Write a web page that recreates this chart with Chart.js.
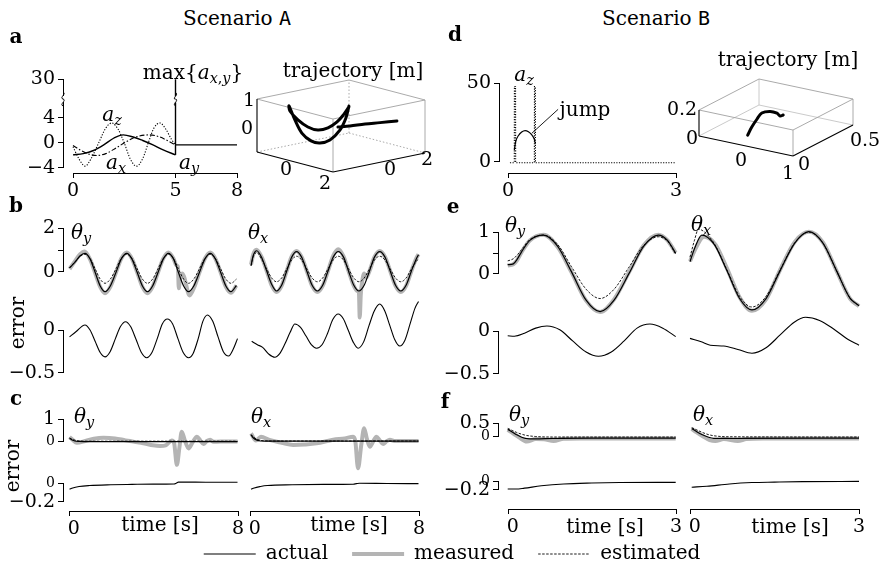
<!DOCTYPE html>
<html>
<head>
<meta charset="utf-8">
<title>Scenario A / B</title>
<script src="https://cdn.jsdelivr.net/npm/chart.js@4.4.1/dist/chart.umd.min.js"></script>
<style>
  body { margin: 0; background: #fff; }
  #fig { position: relative; width: 880px; height: 569px; overflow: hidden; background: #fff; }
  #fig canvas { position: absolute; }
  .t { position: absolute; transform: translate(-50%, -50%); white-space: nowrap;
       font: 20px 'DejaVu Serif', serif; line-height: 1; color: #000; }
  .t i { font-style: italic; }
  .t sub { font-size: 0.72em; vertical-align: -0.3em; line-height: 0; }
  .t tt { font-family: 'DejaVu Sans Mono', monospace; }
  .bold { font-weight: bold; }
  .tick { font-size: 19px; }
  .rot { transform: translate(-50%, -50%) rotate(-90deg); }
</style>
</head>
<body>
<div id="fig"></div>
<script>
const fig = document.getElementById('fig');

Chart.defaults.font.family = "'DejaVu Serif', serif";
Chart.defaults.font.size = 19;
Chart.defaults.color = '#000';
Chart.defaults.animation = false;
Chart.defaults.responsive = false;
Chart.defaults.events = [];
Chart.defaults.plugins.legend.display = false;
Chart.defaults.plugins.tooltip.enabled = false;

// ---- panel a: accelerations, scenario A ----
const accTimeZ = [0, 0.3, 0.59, 0.9, 1.25, 1.6, 1.89, 2.2, 2.5, 2.8, 3.1, 3.4, 3.67, 3.95, 4.24, 4.55, 4.8, 5];
const accZ = [-0.6, -2.6, -3.7, -2.4, 0, 2.4, 3.2, 2.2, 0, -2.6, -3.7, -2.5, 0, 2.4, 3.2, 2.1, 0.6, -0.3];
const accTimeX = [0, 0.4, 0.8, 1.15, 1.6, 2.1, 2.6, 3.1, 3.7, 4.2, 4.6, 5];
const accX = [-0.4, -1.2, -1.8, -2.0, -1.7, -0.8, 0.2, 1.0, 1.3, 1.0, 0.4, -0.3];
const accTimeY = [0, 0.5, 1.0, 1.5, 2.0, 2.45, 2.9, 3.4, 3.9, 4.4, 5];
const accY = [-1.9, -1.7, -1.2, -0.3, 0.8, 1.3, 1.0, 0.4, -0.3, -1.1, -1.9];
const accPeakT = [5, 5];
const accPeakLow = [-1.9, 6.5];
const accPeakHigh = [27.3, 30];
const accRestT = [5, 8];
const accRest = [-0.3, -0.3];

// ---- panel d: jump, scenario B ----
const jumpAzT = [0.04, 0.118, 0.12, 0.14, 0.142, 0.476, 0.478, 0.494, 0.496, 3];
const jumpAz = [0, 0, 48, 48, 0, 0, 48, 48, 0, 0];
const jumpT = [0.118, 0.142, 0.19, 0.25, 0.31, 0.37, 0.43, 0.476, 0.494];
const jumpZ = [8, 13.2, 17, 19.3, 20.2, 19.5, 17.5, 14.7, 11.8];
const jumpTagT = [0.43, 0.9];
const jumpTag = [18.5, 33.6];

// ---- trajectories [m] ----
const trajAX = [0.66, 0.57, 0.38, 0.07, -0.24, -0.52, -0.81, -1.03, -1.21, -1.18, -0.93, -0.62, -0.31, 0.01, 0.29, 0.51, 0.66];
const trajAY = [-0.5, -0.58, -0.73, -0.98, -1.23, -1.45, -1.68, -1.85, -2.0, -1.98, -1.78, -1.53, -1.28, -1.03, -0.8, -0.63, -0.5];
const trajAZ = [0.83, 0.38, -0.09, -0.48, -0.61, -0.55, -0.27, 0.21, 0.73, 0.54, 0.22, -0.03, -0.13, -0.03, 0.21, 0.52, 0.8];
const tailAX = [0.29, 0.55, 0.86, 1.17, 1.52];
const tailAY = [-0.75, -0.34, 0.19, 0.71, 1.3];
const tailAZ = [0.01, 0.04, 0.09, 0.12, 0.16];
const trajBX = [-0.05, -0.16, -0.24, -0.33, -0.28, -0.2, -0.17, -0.13];
const trajBY = [0.03, 0.115, 0.198, 0.28, 0.335, 0.363, 0.379, 0.39];
const trajBZ = [0.037, 0.054, 0.074, 0.078, 0.07, 0.05, 0.024, 0.03];

// ---- panel b: scenario A, theta_y ----
const bT = [0.05, 0.3, 0.55, 0.78, 1.02, 1.26, 1.5, 1.73, 1.98, 2.25, 2.5, 2.76, 3.0, 3.25, 3.5, 3.74, 3.98, 4.24, 4.49, 4.73, 4.97, 5.2, 5.45, 5.68, 5.93, 6.2, 6.46, 6.71, 6.95, 7.2, 7.45, 7.69, 7.95];
const bActY = [0.2, 0.45, 0.75, 0.86, 0.61, 0, -0.62, -0.88, -0.62, 0, 0.61, 0.86, 0.61, 0, -0.62, -0.88, -0.62, 0, 0.61, 0.86, 0.61, 0, -0.62, -0.88, -0.62, 0, 0.61, 0.86, 0.61, 0, -0.62, -0.88, -0.6];
const bEstY = [0.2, 0.47, 0.72, 0.82, 0.63, 0.16, -0.31, -0.5, -0.31, 0.16, 0.63, 0.82, 0.63, 0.16, -0.31, -0.5, -0.31, 0.16, 0.63, 0.82, 0.63, 0.16, -0.31, -0.5, -0.31, 0.16, 0.63, 0.82, 0.63, 0.16, -0.31, -0.5, -0.31];
const bMeasTY = [0.05, 0.3, 0.55, 0.76, 1.0, 1.25, 1.5, 1.73, 1.98, 2.25, 2.5, 2.76, 3.0, 3.25, 3.5, 3.74, 3.98, 4.24, 4.49, 4.73, 4.97, 5.12, 5.18, 5.22, 5.28, 5.38, 5.47, 5.73, 5.95, 6.2, 6.46, 6.71, 6.95, 7.2, 7.45, 7.69, 7.95];
const bMeasY = [0.15, 0.5, 0.82, 0.95, 0.63, 0, -0.66, -0.95, -0.66, 0, 0.63, 0.9, 0.62, 0, -0.66, -0.95, -0.66, 0, 0.63, 0.9, 0.62, 0.3, 0.25, -0.73, -0.3, -0.05, -0.2, -1.05, -0.68, 0, 0.63, 0.9, 0.62, 0, -0.66, -0.93, -0.6];
const bErrTY = [0.05, 0.35, 0.78, 1.02, 1.26, 1.5, 1.73, 1.97, 2.22, 2.46, 2.7, 2.94, 3.2, 3.45, 3.7, 3.95, 4.2, 4.44, 4.68, 4.93, 5.18, 5.43, 5.68, 5.9, 6.14, 6.36, 6.58, 6.83, 7.08, 7.33, 7.58, 7.8, 8.0];
const bErrY = [-0.08, -0.02, 0.058, 0.0, -0.13, -0.26, -0.31, -0.25, -0.1, 0.04, 0.096, 0.04, -0.11, -0.26, -0.32, -0.26, -0.1, 0.07, 0.127, 0.07, -0.1, -0.26, -0.32, -0.27, -0.1, 0.1, 0.173, 0.1, -0.08, -0.25, -0.3, -0.22, -0.1];

// ---- panel b: scenario A, theta_x ----
const bTX = [0.05, 0.15, 0.32, 0.55, 0.79, 1.03, 1.26, 1.5, 1.74, 1.98, 2.21, 2.45, 2.7, 2.95, 3.2, 3.45, 3.7, 3.95, 4.19, 4.44, 4.68, 4.93, 5.17, 5.42, 5.67, 5.91, 6.16, 6.41, 6.66, 6.91, 7.16, 7.41, 7.66, 7.9, 8.0];
const bActX = [0.3, 0.75, 0.98, 0.68, 0.07, -0.55, -0.85, -0.59, 0.05, 0.69, 0.94, 0.69, 0.05, -0.59, -0.85, -0.59, 0.05, 0.69, 0.94, 0.69, 0.05, -0.59, -0.85, -0.59, 0.05, 0.69, 0.94, 0.69, 0.05, -0.59, -0.85, -0.59, 0.05, 0.62, 0.8];
const bEstX = [0.3, 0.7, 0.9, 0.6, 0.15, -0.26, -0.43, -0.26, 0.15, 0.56, 0.73, 0.56, 0.15, -0.26, -0.43, -0.26, 0.15, 0.56, 0.73, 0.56, 0.15, -0.26, -0.43, -0.26, 0.15, 0.56, 0.73, 0.56, 0.15, -0.26, -0.43, -0.26, 0.15, 0.5, 0.62];
const bMeasTX = [0.05, 0.15, 0.3, 0.55, 0.79, 1.03, 1.26, 1.5, 1.74, 1.98, 2.21, 2.45, 2.7, 2.95, 3.2, 3.45, 3.7, 3.95, 4.19, 4.44, 4.68, 4.93, 5.1, 5.17, 5.21, 5.26, 5.33, 5.42, 5.52, 5.67, 5.91, 6.16, 6.41, 6.66, 6.91, 7.16, 7.41, 7.66, 7.9, 8.0];
const bMeasX = [0.35, 0.8, 1.02, 0.7, 0.07, -0.6, -0.9, -0.62, 0.05, 0.72, 0.97, 0.7, 0.05, -0.62, -0.9, -0.62, 0.05, 0.75, 1.05, 0.72, 0.05, -0.62, -0.85, -0.9, -2.05, -1.0, -0.4, -0.05, -0.25, 0.05, 0.7, 0.97, 0.7, 0.05, -0.62, -0.9, -0.62, 0.05, 0.65, 0.82];
const bErrTX = [0.08, 0.35, 0.6, 0.9, 1.18, 1.42, 1.66, 1.9, 2.13, 2.4, 2.66, 2.91, 3.16, 3.42, 3.68, 3.93, 4.19, 4.43, 4.66, 4.9, 5.13, 5.39, 5.65, 5.9, 6.16, 6.4, 6.64, 6.87, 7.11, 7.35, 7.6, 7.83, 8.0];
const bErrX = [-0.13, -0.17, -0.2, -0.28, -0.315, -0.27, -0.16, -0.03, 0.069, 0.03, -0.07, -0.17, -0.21, -0.17, -0.04, 0.12, 0.185, 0.13, 0.0, -0.14, -0.21, -0.14, 0.05, 0.22, 0.3, 0.22, 0.05, -0.11, -0.185, -0.12, 0.07, 0.25, 0.33];

// ---- panel c: scenario A, second estimator ----
const cT = [0.05, 0.15, 0.3, 0.5, 1, 8];
const cActY = [0.12, 0.06, 0.0, -0.02, -0.03, -0.03];
const cEstY = [0.14, 0.09, 0.04, 0.0, -0.01, -0.01];
const cActX = [0.28, 0.15, 0.05, 0.0, -0.01, -0.01];
const cEstX = [0.3, 0.2, 0.09, 0.03, 0.0, 0.0];
const cMeasTY = [0.05, 0.2, 0.39, 0.8, 1.2, 1.65, 2.2, 2.7, 3.07, 3.6, 4.0, 4.34, 4.6, 4.89, 5.0, 5.13, 5.25, 5.36, 5.5, 5.68, 5.88, 6.08, 6.24, 6.39, 6.55, 6.71, 6.86, 7.02, 7.4, 8.0];
const cMeasY = [0.18, 0.05, -0.08, 0.0, 0.1, 0.15, 0.12, 0.03, -0.03, -0.12, -0.2, -0.23, -0.2, 0.02, -0.1, -1.1, -0.3, 0.43, 0.05, -0.34, -0.05, 0.2, 0.02, -0.14, 0.0, 0.06, -0.03, -0.03, -0.02, -0.02];
const cMeasTX = [0.05, 0.28, 0.52, 0.92, 1.5, 2.05, 2.6, 3.16, 3.95, 4.5, 4.9, 5.0, 5.13, 5.28, 5.42, 5.55, 5.69, 5.85, 6.0, 6.16, 6.32, 6.48, 6.64, 6.85, 7.1, 8.0];
const cMeasX = [0.35, 0.02, 0.2, 0.05, -0.08, -0.18, -0.16, -0.11, 0.06, 0.12, 0.2, 0.0, -1.26, -0.2, 0.59, 0.1, -0.26, -0.02, 0.2, 0.03, -0.14, -0.02, 0.06, 0.0, 0.0, 0.0];
const cErrTY = [0.05, 0.2, 0.5, 1, 2, 3, 4, 5.0, 5.1, 5.2, 6, 7, 8];
const cErrY = [-0.07, -0.055, -0.04, -0.03, -0.022, -0.018, -0.015, -0.013, -0.005, 0.006, 0.006, 0.005, 0.005];
const cErrTX = [0.05, 0.2, 0.5, 0.83, 2, 3.5, 4.9, 5.05, 5.2, 6.5, 8];
const cErrX = [-0.07, -0.055, -0.04, -0.03, -0.022, -0.018, -0.016, -0.01, -0.005, -0.008, -0.01];

// ---- panel e: scenario B ----
const eT = [0, 0.1, 0.17, 0.25, 0.4, 0.64, 0.89, 1.14, 1.4, 1.65, 1.9, 2.17, 2.43, 2.69, 2.85, 3.0];
const eActY = [0.22, 0.24, 0.35, 0.53, 0.8, 0.92, 0.66, 0.05, -0.62, -0.89, -0.62, 0.02, 0.66, 0.92, 0.8, 0.49];
const eEstY = [0.31, 0.36, 0.45, 0.58, 0.82, 0.92, 0.7, 0.17, -0.36, -0.58, -0.36, 0.17, 0.68, 0.88, 0.78, 0.47];
const eMeasY = [0.2, 0.23, 0.33, 0.52, 0.8, 0.93, 0.64, 0.04, -0.63, -0.9, -0.6, 0.05, 0.68, 0.93, 0.8, 0.5];
const eErrTY = [0, 0.12, 0.3, 0.5, 0.7, 0.93, 1.16, 1.4, 1.62, 1.85, 2.08, 2.31, 2.54, 2.77, 3.0];
const eErrY = [-0.06, -0.065, -0.03, 0.03, 0.055, 0.01, -0.12, -0.25, -0.3, -0.25, -0.12, 0.03, 0.078, 0.03, -0.07];
const eTX = [0, 0.08, 0.21, 0.43, 0.655, 0.88, 1.1, 1.35, 1.6, 1.86, 2.11, 2.36, 2.6, 2.84, 3.0];
const eActX = [0.29, 0.6, 0.92, 0.7, 0.08, -0.58, -0.85, -0.58, 0.08, 0.73, 1.0, 0.73, 0.08, -0.57, -0.75];
const eEstTX = [0, 0.08, 0.15, 0.25, 0.43, 0.655, 0.88, 1.1, 1.35, 1.6, 1.86, 2.11, 2.36, 2.6, 2.84, 3.0];
const eEstX = [0.4, 0.8, 1.06, 1.0, 0.72, 0.1, -0.53, -0.78, -0.53, 0.1, 0.74, 0.99, 0.73, 0.08, -0.57, -0.75];
const eMeasTX = [0, 0.08, 0.25, 0.45, 0.66, 0.88, 1.1, 1.35, 1.6, 1.86, 2.11, 2.36, 2.6, 2.84, 3.0];
const eMeasX = [0.3, 0.55, 0.88, 0.7, 0.12, -0.55, -0.87, -0.6, 0.1, 0.76, 1.0, 0.75, 0.08, -0.58, -0.76];
const eErrTX = [0, 0.2, 0.36, 0.6, 0.85, 1.1, 1.35, 1.6, 1.85, 2.05, 2.3, 2.55, 2.8, 3.0];
const eErrX = [-0.09, -0.13, -0.17, -0.18, -0.22, -0.265, -0.2, -0.05, 0.1, 0.157, 0.12, 0.02, -0.1, -0.17];

// ---- panel f: scenario B, second estimator ----
const fT = [0, 0.08, 0.16, 0.25, 0.34, 0.5, 0.8, 1.5, 3];
const fActY = [0.26, 0.16, 0.05, -0.05, -0.1, -0.11, -0.09, -0.08, -0.08];
const fEstY = [0.3, 0.22, 0.14, 0.07, 0.02, -0.02, -0.04, -0.04, -0.04];
const fMeasTY = [0, 0.1, 0.2, 0.34, 0.5, 0.65, 0.82, 1.0, 1.3, 2, 3];
const fMeasY = [0.24, 0.1, -0.05, -0.22, -0.12, -0.13, -0.2, -0.11, -0.1, -0.1, -0.1];
const fErrTY = [0, 0.15, 0.3, 0.6, 1.0, 1.5, 2.0, 3.0];
const fErrY = [-0.18, -0.18, -0.16, -0.11, -0.07, -0.05, -0.04, -0.035];
const fTX = [0.03, 0.12, 0.22, 0.32, 0.42, 0.7, 3];
const fActX = [0.3, 0.17, 0.05, -0.04, -0.09, -0.09, -0.08];
const fEstX = [0.33, 0.24, 0.14, 0.06, 0.01, -0.03, -0.04];
const fMeasTX = [0.03, 0.12, 0.22, 0.35, 0.45, 0.6, 0.85, 1.0, 1.3, 3];
const fMeasX = [0.28, 0.14, 0.0, -0.16, -0.2, -0.12, -0.2, -0.12, -0.1, -0.1];
const fErrTX = [0.03, 0.3, 0.7, 1.1, 1.5, 2, 3];
const fErrX = [-0.14, -0.12, -0.07, -0.04, -0.03, -0.02, -0.015];

const legendNames = ['actual', 'measured', 'estimated'];

// line styles
const ACTUAL = { borderColor: '#000', borderWidth: 1.2, order: 2 };
const MEASURED = { borderColor: '#b4b4b4', borderWidth: 4, order: 3 };
const ESTIMATED = { borderColor: '#000', borderWidth: 0.9, borderDash: [2.5, 1.5], order: 1 };
const ERROR = { borderColor: '#000', borderWidth: 1.1, order: 2 };
const STRAIGHT = { tension: 0, cubicInterpolationMode: 'default' };

// little axis-break marks
const squiggle = {
  id: 'squiggle',
  afterDraw(chart, args, opts) {
    const ctx = chart.ctx;
    (opts.marks || []).forEach((m) => {
      const px = m.edge ? chart.chartArea.left : chart.scales.x.getPixelForValue(m.x);
      const py = m.edge ? chart.chartArea[m.edge] : chart.scales[m.axis].getPixelForValue(m.y);
      ctx.save();
      ctx.strokeStyle = '#000';
      ctx.lineWidth = 1;
      ctx.beginPath();
      ctx.moveTo(px, py - 3.5);
      ctx.bezierCurveTo(px + 4, py - 2, px - 4, py + 2, px, py + 3.5);
      ctx.stroke();
      ctx.restore();
    });
  }
};
Chart.register(squiggle);

function pix(map, v) {
  const [v0, p0, v1, p1] = map;
  return p0 + (v - v0) * (p1 - p0) / (v1 - v0);
}

function range(map, a, b) {
  const [v0, p0, v1, p1] = map;
  const va = v0 + (a - p0) * (v1 - v0) / (p1 - p0);
  const vb = v0 + (b - p0) * (v1 - v0) / (p1 - p0);
  return { min: Math.min(va, vb), max: Math.max(va, vb) };
}

function addCanvas(left, top, w, h) {
  const c = document.createElement('canvas');
  c.width = Math.round(w);
  c.height = Math.round(h);
  c.style.left = left + 'px';
  c.style.top = top + 'px';
  c.style.width = Math.round(w) + 'px';
  c.style.height = Math.round(h) + 'px';
  fig.appendChild(c);
  return c;
}

function series(t, v, yAxisID, style) {
  return Object.assign({
    data: t.map((x, i) => ({ x, y: v[i] })),
    yAxisID,
    pointRadius: 0,
    fill: false,
    cubicInterpolationMode: 'monotone'
  }, style);
}

// data area: box is the chart area in page pixels, maps tie values to pixels
function plot(box, xMap, yMaps, datasets, plugins) {
  const [x0, y0, x1, y1] = box;
  const canvas = addCanvas(x0, y0, x1 - x0, y1 - y0);
  const scales = { x: Object.assign({ type: 'linear', display: false }, range(xMap, x0, x1)) };
  Object.keys(yMaps).forEach((id) => {
    scales[id] = Object.assign({ type: 'linear', display: false }, range(yMaps[id], y0, y1));
  });
  return new Chart(canvas, {
    type: 'line',
    data: { datasets },
    options: { layout: { padding: 0 }, scales, plugins: plugins || {} }
  });
}

function yAxis(x, map, lo, hi, ticks, labels, small, marks) {
  const top = pix(map, hi);
  const bottom = pix(map, lo);
  const W = 62;
  const pad = 14;
  const canvas = addCanvas(x - W, top - pad, W + 3, bottom - top + 2 * pad);
  return new Chart(canvas, {
    type: 'line',
    data: { datasets: [] },
    options: {
      layout: { padding: { left: 0, right: 2, top: pad, bottom: pad } },
      scales: {
        x: { type: 'linear', display: false },
        y: {
          type: 'linear', min: lo, max: hi,
          afterFit: (s) => { s.width = W; },
          afterBuildTicks: (s) => { s.ticks = ticks.map((value) => ({ value })); },
          grid: { drawOnChartArea: false, tickLength: 5, color: '#000', lineWidth: 1 },
          border: { color: '#000', width: 1 },
          ticks: {
            padding: 3, autoSkip: false,
            callback: (v) => labels[v] ?? '',
            font: (c) => ({ size: (small || []).includes(c.tick && c.tick.value) ? 14 : 19 })
          }
        }
      },
      plugins: { squiggle: { marks: marks || [] } }
    }
  });
}

function xAxis(y, map, lo, hi, ticks, labels) {
  const left = pix(map, lo);
  const right = pix(map, hi);
  const H = 32;
  const pad = 14;
  const canvas = addCanvas(left - pad, y - 2, right - left + 2 * pad, H + 2);
  return new Chart(canvas, {
    type: 'line',
    data: { datasets: [] },
    options: {
      layout: { padding: { left: pad, right: pad, top: 1, bottom: 0 } },
      scales: {
        y: { type: 'linear', display: false },
        x: {
          type: 'linear', position: 'bottom', min: lo, max: hi,
          afterFit: (s) => { s.height = H; },
          afterBuildTicks: (s) => { s.ticks = ticks.map((value) => ({ value })); },
          grid: { drawOnChartArea: false, tickLength: 5, color: '#000', lineWidth: 1 },
          border: { color: '#000', width: 1 },
          ticks: { padding: 2, autoSkip: false, maxRotation: 0, callback: (v) => labels[v] ?? '' }
        }
      }
    }
  });
}

// simple parallel projection of a 3D box given its bottom corners on the page
function view(L, F, R, H, rx, ry, rz) {
  return (x, y, z) => {
    const u = (x - rx[0]) / (rx[1] - rx[0]);
    const v = (y - ry[0]) / (ry[1] - ry[0]);
    const w = (z - rz[0]) / (rz[1] - rz[0]);
    return {
      x: L[0] + u * (F[0] - L[0]) + v * (R[0] - F[0]),
      y: L[1] + u * (F[1] - L[1]) + v * (R[1] - F[1]) - w * H
    };
  };
}

function cube(box, P, rx, ry, rz, paths, backDash) {
  const [x0, y0, x1, y1] = box;
  const c = (i, j, k) => P(rx[i], ry[j], rz[k]);
  const edge = (a, b, style) => Object.assign({
    data: [a, b], showLine: true, pointRadius: 0, borderWidth: 0.9, borderColor: '#a0a0a0', order: 1
  }, style);
  const axis = { borderColor: '#000', borderWidth: 1.1 };
  const back = backDash ? { borderDash: [1.5, 2] } : { borderColor: '#c4c4c4' };
  const datasets = [
    edge(c(0, 0, 0), c(1, 0, 0), axis),
    edge(c(1, 0, 0), c(1, 1, 0), axis),
    edge(c(0, 0, 0), c(0, 0, 1), axis),
    edge(c(0, 0, 1), c(1, 0, 1)),
    edge(c(1, 0, 1), c(1, 1, 1)),
    edge(c(1, 1, 1), c(0, 1, 1)),
    edge(c(0, 1, 1), c(0, 0, 1)),
    edge(c(1, 0, 0), c(1, 0, 1)),
    edge(c(1, 1, 0), c(1, 1, 1)),
    edge(c(0, 0, 0), c(0, 1, 0), back),
    edge(c(0, 1, 0), c(1, 1, 0), back),
    edge(c(0, 1, 0), c(0, 1, 1), back)
  ];
  paths.forEach(([xs, ys, zs]) => {
    datasets.push({
      data: xs.map((x, i) => P(x, ys[i], zs[i])),
      showLine: true, pointRadius: 0, borderColor: '#000', borderWidth: 3,
      tension: 0.35, borderJoinStyle: 'round', borderCapStyle: 'round', order: 0
    });
  });
  const canvas = addCanvas(x0, y0, x1 - x0, y1 - y0);
  return new Chart(canvas, {
    type: 'scatter',
    data: { datasets },
    options: {
      layout: { padding: 0 },
      scales: {
        x: { type: 'linear', display: false, min: x0, max: x1 },
        y: { type: 'linear', display: false, reverse: true, min: y0, max: y1 }
      }
    }
  });
}

function label(html, x, y, cls) {
  const d = document.createElement('div');
  d.className = 't ' + (cls || '');
  d.innerHTML = html;
  d.style.left = x + 'px';
  d.style.top = y + 'px';
  fig.appendChild(d);
}

// ---- panel a ----
const aX = [0, 73, 8, 237];
const aLo = [0, 143, 4, 118];
const aHi = [30, 79.3, 26, 104.3];
plot([58, 74, 246, 172], aX, { yLo: aLo, yHi: aHi }, [
  series(accTimeZ, accZ, 'yLo', { borderColor: '#000', borderWidth: 1.1, borderDash: [1.2, 1.6] }),
  series(accTimeX, accX, 'yLo', { borderColor: '#000', borderWidth: 1.1, borderDash: [5, 2, 1.5, 2] }),
  series(accTimeY, accY, 'yLo', { borderColor: '#000', borderWidth: 1.4 }),
  series(accPeakT, accPeakLow, 'yLo', Object.assign({ borderColor: '#000', borderWidth: 1.4 }, STRAIGHT)),
  series(accPeakT, accPeakHigh, 'yHi', Object.assign({ borderColor: '#000', borderWidth: 1.4 }, STRAIGHT)),
  series(accRestT, accRest, 'yLo', Object.assign({ borderColor: '#000', borderWidth: 1.2 }, STRAIGHT))
], { squiggle: { marks: [{ x: 5, axis: 'yLo', y: 6.5 }, { x: 5, axis: 'yHi', y: 27.3 }] } });
yAxis(63, aLo, -4, 6.5, [-4, 0, 4], { '-4': '\u22124', 0: '0', 4: '4' }, [], [{ edge: 'top' }]);
yAxis(63, aHi, 27.3, 30, [30], { 30: '30' }, [], [{ edge: 'bottom' }]);
xAxis(173.3, aX, 0, 8, [0, 5, 8], { 0: '0', 5: '5', 8: '8' });

// ---- panel d ----
const dX = [0, 507.7, 3, 675.7];
const dY = [0, 162.7, 50, 83.3];
plot([496, 66, 690, 172], dX, { y: dY }, [
  series(jumpAzT, jumpAz, 'y', Object.assign({ borderColor: '#000', borderWidth: 1.1, borderDash: [1.2, 1.4] }, STRAIGHT)),
  series(jumpT, jumpZ, 'y', { borderColor: '#000', borderWidth: 1.2 }),
  series(jumpTagT, jumpTag, 'y', Object.assign({ borderColor: '#000', borderWidth: 0.9 }, STRAIGHT))
]);
yAxis(499, dY, 0, 50, [0, 50], { 0: '0', 50: '50' });
xAxis(173.3, dX, 0, 3, [0, 3], { 0: '0', 3: '3' });

// ---- 3D trajectories ----
const viewA = view([257, 152], [333, 172], [425, 153], 53, [-2, 2.4], [-3, 2], [-1, 1]);
cube([232, 60, 448, 195], viewA, [-2, 2.4], [-3, 2], [-1, 1],
  [[trajAX, trajAY, trajAZ], [tailAX, tailAY, tailAZ]], true);
const viewB = view([699, 136], [793, 156], [853, 125], 26, [-0.9, 1.1], [-0.05, 0.5], [0, 0.2]);
cube([670, 60, 880, 185], viewB, [-0.9, 1.1], [-0.05, 0.5], [0, 0.2],
  [[trajBX, trajBY, trajBZ]], false);

// ---- panels b, c (scenario A) ----
const yMapsA = {
  yB: [0, 272.3, 2, 228.3], yBe: [0, 330, -0.5, 373.3],
  yC: [0, 441, 1, 419.3], yCe: [0, 482.7, -0.2, 501.7]
};
const xAL = [0, 68.5, 8, 237.5];
const xAR = [0, 250, 8, 418.5];
plot([50, 212, 250, 512], xAL, yMapsA, [
  series(bT, bEstY, 'yB', ESTIMATED),
  series(bT, bActY, 'yB', ACTUAL),
  series(bMeasTY, bMeasY, 'yB', MEASURED),
  series(bErrTY, bErrY, 'yBe', ERROR),
  series(cT, cEstY, 'yC', ESTIMATED),
  series(cT, cActY, 'yC', ACTUAL),
  series(cMeasTY, cMeasY, 'yC', MEASURED),
  series(cErrTY, cErrY, 'yCe', ERROR)
]);
plot([238, 212, 432, 512], xAR, yMapsA, [
  series(bTX, bEstX, 'yB', ESTIMATED),
  series(bTX, bActX, 'yB', ACTUAL),
  series(bMeasTX, bMeasX, 'yB', MEASURED),
  series(bErrTX, bErrX, 'yBe', ERROR),
  series(cT, cEstX, 'yC', ESTIMATED),
  series(cT, cActX, 'yC', ACTUAL),
  series(cMeasTX, cMeasX, 'yC', MEASURED),
  series(cErrTX, cErrX, 'yCe', ERROR)
]);
yAxis(63, yMapsA.yB, 0, 2, [0, 1, 2], { 0: '0', 2: '2' });
yAxis(63, yMapsA.yBe, -0.5, 0, [-0.5, 0], { '-0.5': '\u22120.5', 0: '0' });
yAxis(63, yMapsA.yC, 0, 1, [0, 1], { 0: '0', 1: '1' }, [0]);
yAxis(63, yMapsA.yCe, -0.2, 0, [-0.2, 0], { '-0.2': '\u22120.2', 0: '0' }, [0]);
xAxis(510.7, xAL, 0, 8, [0, 8], { 0: '\u20020', 8: '8' });
xAxis(510.7, xAR, 0, 8, [0, 8], { 0: '\u20020', 8: '8' });

// ---- panels e, f (scenario B) ----
const yMapsB = {
  yE: [0, 274, 1, 231.7], yEe: [0, 330.7, -0.5, 373.3],
  yF: [0, 436, 0.5, 423.3], yFe: [0, 480.7, -0.2, 490]
};
const xBL = [0, 507.7, 3, 675.7];
const xBR = [0, 690, 3, 859];
plot([496, 205, 690, 505], xBL, yMapsB, [
  series(eT, eEstY, 'yE', ESTIMATED),
  series(eT, eActY, 'yE', ACTUAL),
  series(eT, eMeasY, 'yE', MEASURED),
  series(eErrTY, eErrY, 'yEe', ERROR),
  series(fT, fEstY, 'yF', ESTIMATED),
  series(fT, fActY, 'yF', ACTUAL),
  series(fMeasTY, fMeasY, 'yF', MEASURED),
  series(fErrTY, fErrY, 'yFe', ERROR)
]);
plot([678, 205, 876, 505], xBR, yMapsB, [
  series(eEstTX, eEstX, 'yE', ESTIMATED),
  series(eTX, eActX, 'yE', ACTUAL),
  series(eMeasTX, eMeasX, 'yE', MEASURED),
  series(eErrTX, eErrX, 'yEe', ERROR),
  series(fTX, fEstX, 'yF', ESTIMATED),
  series(fTX, fActX, 'yF', ACTUAL),
  series(fMeasTX, fMeasX, 'yF', MEASURED),
  series(fErrTX, fErrX, 'yFe', ERROR)
]);
yAxis(498.3, yMapsB.yE, 0, 1, [0, 0.5, 1], { 0: '0', 1: '1' });
yAxis(498.3, yMapsB.yEe, -0.5, 0, [-0.5, 0], { '-0.5': '\u22120.5', 0: '0' });
yAxis(498.3, yMapsB.yF, 0, 0.5, [0, 0.5], { 0: '0', 0.5: '0.5' }, [0]);
yAxis(498.3, yMapsB.yFe, -0.2, 0, [-0.2, 0], { '-0.2': '\u22120.2', 0: '0' }, [0]);
xAxis(509.3, xBL, 0, 3, [0, 3], { 0: '\u20020', 3: '3' });
xAxis(509.3, xBR, 0, 3, [0, 3], { 0: '\u20020', 3: '3' });

// ---- legend ----
const legendStyles = [ACTUAL, MEASURED, ESTIMATED];
new Chart(addCanvas(152, 520, 600, 100), {
  type: 'line',
  data: { datasets: legendNames.map((name, i) => Object.assign({ label: name, data: [] }, legendStyles[i])) },
  options: {
    scales: { x: { display: false }, y: { display: false } },
    plugins: {
      legend: {
        display: true, position: 'top', align: 'center', maxHeight: 90,
        labels: {
          usePointStyle: true, pointStyle: 'line', pointStyleWidth: 52, padding: 24,
          font: { size: 20 }, color: '#000',
          generateLabels: (chart) => chart.data.datasets.map((ds, i) => ({
            text: ds.label, strokeStyle: ds.borderColor, fillStyle: ds.borderColor,
            lineWidth: ds.borderWidth, lineDash: ds.borderDash || [], pointStyle: 'line',
            hidden: false, datasetIndex: i, fontColor: '#000'
          }))
        }
      }
    }
  }
});

// ---- text ----
const th = (s) => `<i>\u03b8</i><sub><i>${s}</i></sub>`;
const acc = (s) => `<i>a</i><sub><i>${s}</i></sub>`;
label('Scenario <tt>A</tt>', 237, 18);
label('Scenario <tt>B</tt>', 656, 18);
label('a', 16, 36, 'bold');
label('d', 455, 34, 'bold');
label('b', 16, 205, 'bold');
label('e', 453, 206, 'bold');
label('c', 16, 398, 'bold');
label('f', 445, 401, 'bold');
label('trajectory [m]', 353, 70);
label('trajectory [m]', 788, 59);
label(acc('z'), 112, 114);
label(acc('x'), 116, 162);
label(acc('y'), 189, 162);
label(`max{<i>a</i><sub><i>x</i>,<i>y</i></sub>}`, 193, 72);
label(acc('z'), 524, 74);
label('jump', 585, 109);
label(th('y'), 81, 232);
label(th('x'), 258, 232);
label(th('y'), 84, 416);
label(th('x'), 261, 416);
label(th('y'), 515, 225);
label(th('x'), 701, 224);
label(th('y'), 519, 414);
label(th('x'), 703, 414);
label('error', 17, 323, 'rot');
label('error', 12, 466, 'rot');
label('time [s]', 160, 524);
label('time [s]', 349, 524);
label('time [s]', 605, 526);
label('time [s]', 790, 526);
// 3D tick labels
label('1', 249, 99, 'tick');
label('0', 247, 127, 'tick');
label('0', 286, 168, 'tick');
label('2', 325, 182, 'tick');
label('0', 390, 168, 'tick');
label('2', 427, 158, 'tick');
label('0.2', 682, 108, 'tick');
label('0', 692, 137, 'tick');
label('0', 741, 159, 'tick');
label('1', 788, 172, 'tick');
label('0', 804, 163, 'tick');
label('0.5', 865, 139, 'tick');
</script>
</body>
</html>
